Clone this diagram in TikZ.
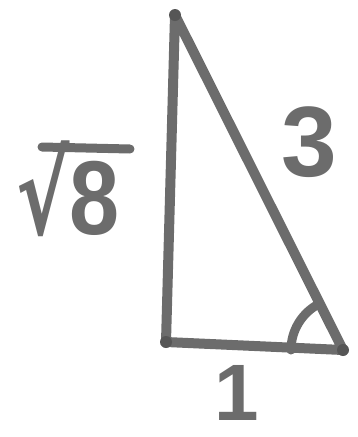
\documentclass[tikz,border=0pt]{standalone}
\usepackage{fontspec}
\usepackage{graphicx}
\setmainfont{Liberation Sans}
\newfontfamily\dejavu{DejaVu Sans}
\definecolor{marker}{HTML}{6C6C6C}
\begin{document}
\begin{tikzpicture}[x=1pt,y=-1pt,
  side/.style={draw=marker,line width=10pt,line cap=round,line join=round},
  lab/.style={text=marker,font=\fontsize{100}{100}\selectfont\bfseries,inner sep=0pt,anchor=base}]
\useasboundingbox (0,0) rectangle (358,437);
\coordinate (A) at (175,15);
\coordinate (B) at (166,342);
\coordinate (C) at (343,350);
\draw[side] (A) -- (B) -- (C) -- cycle;
\draw[draw=marker,line width=9pt,line cap=round] ([shift={(-52,0)}]C) arc[start angle=180,end angle=243.4,radius=52];
\foreach \p in {A,B,C} \fill[marker!80!black] (\p) circle (6);
\node[lab] (three) at (309,176) {3};
\node[lab,font=\fontsize{80}{80}\selectfont\bfseries] (one) at (237,420) {1};
\node[lab] (root) at (68,234) {{\dejavu\bfseries\scalebox{0.8}[1.12]{√}}\scalebox{0.9}[1.05]{8}};
\coordinate (barL) at (42,147);
\coordinate (barR) at (130,149);
\draw[draw=marker,line width=9pt,line cap=round] (barL) -- (barR);
\end{tikzpicture}
\end{document}
